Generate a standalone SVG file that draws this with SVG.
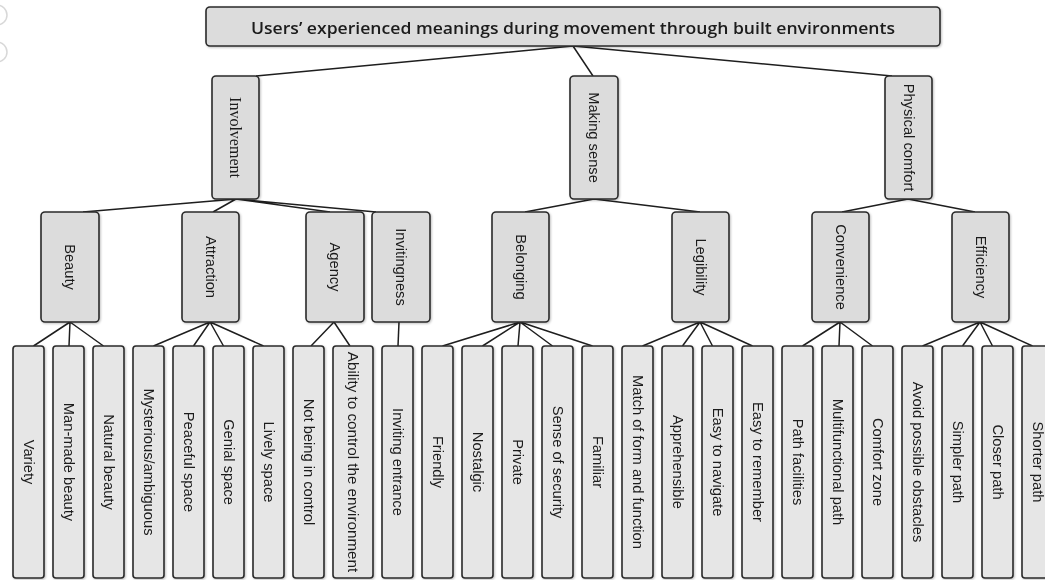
<svg xmlns="http://www.w3.org/2000/svg" width="1045" height="580" viewBox="0 0 1045 580">
<style>
.bx{fill:#dcdcdc;stroke:#2b2b2b;stroke-width:1.6}
.lf{fill:#e6e6e6;stroke:#2b2b2b;stroke-width:1.6}
.t{font-family:"Liberation Sans",Arial,sans-serif;font-size:14.7px;fill:#1a1a1a;text-anchor:middle;dominant-baseline:central}
.ts{font-family:"Liberation Serif","Times New Roman",serif;font-size:16px;fill:#1a1a1a;text-anchor:middle;dominant-baseline:central}
.tt{font-family:"Open Sans","Liberation Sans",sans-serif;font-size:16.5px;font-weight:600;fill:#1a1a1a;text-anchor:middle;dominant-baseline:central}
.cn{stroke:#1e1e1e;stroke-width:1.5;fill:none}
.art{fill:none;stroke:#d8d8d8;stroke-width:1.5}
</style>
<defs>
<filter id="sh" x="-20%" y="-20%" width="140%" height="140%">
<feDropShadow dx="1" dy="1" stdDeviation="1" flood-color="#000" flood-opacity="0.25"/>
</filter>
</defs>
<rect width="1045" height="580" fill="#ffffff"/>
<circle class="art" cx="-3" cy="15" r="10"/>
<circle class="art" cx="-3" cy="52" r="10"/>

<g id="connectors">
<path class="cn" d="M573 46 L256 76 M573 46 L593 76 M573 46 L892 76"/>
<path class="cn" d="M236 199 L83 212 M236 199 L213 212 M236 199 L330 212 M236 199 L376 212"/>
<path class="cn" d="M594 199 L525 212 M594 199 L700 212"/>
<path class="cn" d="M908 199 L842 212 M908 199 L975 212"/>
<path class="cn" d="M70 322 L33.5 346 M70 322 L69 346 M70 322 L103.5 346"/>
<path class="cn" d="M210 322 L153.5 346 M210 322 L193.5 346 M210 322 L223.5 346 M210 322 L263.5 346"/>
<path class="cn" d="M334 322 L311 346 M334 322 L350 346"/>
<path class="cn" d="M399 322 L398 346"/>
<path class="cn" d="M520 322 L442.5 346 M520 322 L482.5 346 M520 322 L518 346 M520 322 L552.5 346 M520 322 L592.5 346"/>
<path class="cn" d="M700 322 L642.5 346 M700 322 L682.5 346 M700 322 L712.5 346 M700 322 L752.5 346"/>
<path class="cn" d="M840 322 L802.5 346 M840 322 L839 346 M840 322 L872.5 346"/>
<path class="cn" d="M980 322 L922.5 346 M980 322 L962.5 346 M980 322 L992.5 346 M980 322 L1032.5 346"/>
</g>

<g id="root" filter="url(#sh)">
<rect class="bx" x="206" y="7" width="734" height="39" rx="4"/>
<text class="tt" x="573" y="27" textLength="644" lengthAdjust="spacingAndGlyphs">Users’ experienced meanings during movement through built environments</text>
</g>

<g id="involvement" filter="url(#sh)"><rect class="bx" x="212" y="76" width="47" height="123" rx="4"/><text class="ts" transform="translate(235.5,137.5) rotate(90)">Involvement</text></g>
<g id="making-sense" filter="url(#sh)"><rect class="bx" x="570" y="76" width="48" height="123" rx="4"/><text class="t" transform="translate(594,137.5) rotate(90)">Making sense</text></g>
<g id="physical-comfort" filter="url(#sh)"><rect class="bx" x="885" y="76" width="47" height="123" rx="4"/><text class="t" transform="translate(908.5,137.5) rotate(90)">Physical comfort</text></g>

<g id="beauty" filter="url(#sh)"><rect class="bx" x="41" y="212" width="58" height="110" rx="4"/><text class="t" transform="translate(70,267) rotate(90)">Beauty</text></g>
<g id="attraction" filter="url(#sh)"><rect class="bx" x="182" y="212" width="57" height="110" rx="4"/><text class="t" transform="translate(210.5,267) rotate(90)">Attraction</text></g>
<g id="agency" filter="url(#sh)"><rect class="bx" x="306" y="212" width="58" height="110" rx="4"/><text class="t" transform="translate(335,267) rotate(90)">Agency</text></g>
<g id="invitingness" filter="url(#sh)"><rect class="bx" x="372" y="212" width="58" height="110" rx="4"/><text class="t" transform="translate(401,267) rotate(90)">Invitingness</text></g>
<g id="belonging" filter="url(#sh)"><rect class="bx" x="492" y="212" width="57" height="110" rx="4"/><text class="t" transform="translate(520.5,267) rotate(90)">Belonging</text></g>
<g id="legibility" filter="url(#sh)"><rect class="bx" x="672" y="212" width="57" height="110" rx="4"/><text class="t" transform="translate(700.5,267) rotate(90)">Legibility</text></g>
<g id="convenience" filter="url(#sh)"><rect class="bx" x="812" y="212" width="57" height="110" rx="4"/><text class="t" transform="translate(840.5,267) rotate(90)">Convenience</text></g>
<g id="efficiency" filter="url(#sh)"><rect class="bx" x="952" y="212" width="57" height="110" rx="4"/><text class="t" transform="translate(980.5,267) rotate(90)">Efficiency</text></g>

<g id="variety" filter="url(#sh)"><rect class="lf" x="13" y="346" width="31" height="232" rx="3"/><text class="t" transform="translate(28.5,462) rotate(90)">Variety</text></g>
<g id="man-made-beauty" filter="url(#sh)"><rect class="lf" x="53" y="346" width="31" height="232" rx="3"/><text class="t" transform="translate(68.5,462) rotate(90)">Man-made beauty</text></g>
<g id="natural-beauty" filter="url(#sh)"><rect class="lf" x="93" y="346" width="31" height="232" rx="3"/><text class="t" transform="translate(108.5,462) rotate(90)">Natural beauty</text></g>
<g id="mysterious" filter="url(#sh)"><rect class="lf" x="133" y="346" width="31" height="232" rx="3"/><text class="t" transform="translate(148.5,462) rotate(90)">Mysterious/ambiguous</text></g>
<g id="peaceful-space" filter="url(#sh)"><rect class="lf" x="173" y="346" width="31" height="232" rx="3"/><text class="t" transform="translate(188.5,462) rotate(90)">Peaceful space</text></g>
<g id="genial-space" filter="url(#sh)"><rect class="lf" x="213" y="346" width="31" height="232" rx="3"/><text class="t" transform="translate(228.5,462) rotate(90)">Genial space</text></g>
<g id="lively-space" filter="url(#sh)"><rect class="lf" x="253" y="346" width="31" height="232" rx="3"/><text class="t" transform="translate(268.5,462) rotate(90)">Lively space</text></g>
<g id="not-being-in-control" filter="url(#sh)"><rect class="lf" x="293" y="346" width="31" height="232" rx="3"/><text class="t" transform="translate(308.5,462) rotate(90)">Not being in control</text></g>
<g id="ability" filter="url(#sh)"><rect class="lf" x="333" y="346" width="40" height="232" rx="3"/><text class="t" style="font-size:15.2px" transform="translate(353,462) rotate(90)">Ability to control the environment</text></g>
<g id="inviting-entrance" filter="url(#sh)"><rect class="lf" x="382" y="346" width="31" height="232" rx="3"/><text class="t" transform="translate(397.5,462) rotate(90)">Inviting entrance</text></g>
<g id="friendly" filter="url(#sh)"><rect class="lf" x="422" y="346" width="31" height="232" rx="3"/><text class="t" transform="translate(437.5,462) rotate(90)">Friendly</text></g>
<g id="nostalgic" filter="url(#sh)"><rect class="lf" x="462" y="346" width="31" height="232" rx="3"/><text class="t" transform="translate(477.5,462) rotate(90)">Nostalgic</text></g>
<g id="private" filter="url(#sh)"><rect class="lf" x="502" y="346" width="31" height="232" rx="3"/><text class="t" transform="translate(517.5,462) rotate(90)">Private</text></g>
<g id="sense-of-security" filter="url(#sh)"><rect class="lf" x="542" y="346" width="31" height="232" rx="3"/><text class="t" transform="translate(557.5,462) rotate(90)">Sense of security</text></g>
<g id="familiar" filter="url(#sh)"><rect class="lf" x="582" y="346" width="31" height="232" rx="3"/><text class="t" transform="translate(597.5,462) rotate(90)">Familiar</text></g>
<g id="match" filter="url(#sh)"><rect class="lf" x="622" y="346" width="31" height="232" rx="3"/><text class="t" transform="translate(637.5,462) rotate(90)">Match of form and function</text></g>
<g id="apprehensible" filter="url(#sh)"><rect class="lf" x="662" y="346" width="31" height="232" rx="3"/><text class="t" transform="translate(677.5,462) rotate(90)">Apprehensible</text></g>
<g id="easy-to-navigate" filter="url(#sh)"><rect class="lf" x="702" y="346" width="31" height="232" rx="3"/><text class="t" transform="translate(717.5,462) rotate(90)">Easy to navigate</text></g>
<g id="easy-to-remember" filter="url(#sh)"><rect class="lf" x="742" y="346" width="31" height="232" rx="3"/><text class="t" transform="translate(757.5,462) rotate(90)">Easy to remember</text></g>
<g id="path-facilities" filter="url(#sh)"><rect class="lf" x="782" y="346" width="31" height="232" rx="3"/><text class="t" transform="translate(797.5,462) rotate(90)">Path facilities</text></g>
<g id="multifunctional-path" filter="url(#sh)"><rect class="lf" x="822" y="346" width="31" height="232" rx="3"/><text class="t" transform="translate(837.5,462) rotate(90)">Multifunctional path</text></g>
<g id="comfort-zone" filter="url(#sh)"><rect class="lf" x="862" y="346" width="31" height="232" rx="3"/><text class="t" transform="translate(877.5,462) rotate(90)">Comfort zone</text></g>
<g id="avoid-obstacles" filter="url(#sh)"><rect class="lf" x="902" y="346" width="31" height="232" rx="3"/><text class="t" transform="translate(917.5,462) rotate(90)">Avoid possible obstacles</text></g>
<g id="simpler-path" filter="url(#sh)"><rect class="lf" x="942" y="346" width="31" height="232" rx="3"/><text class="t" transform="translate(957.5,462) rotate(90)">Simpler path</text></g>
<g id="closer-path" filter="url(#sh)"><rect class="lf" x="982" y="346" width="31" height="232" rx="3"/><text class="t" transform="translate(997.5,462) rotate(90)">Closer path</text></g>
<g id="shorter-path" filter="url(#sh)"><rect class="lf" x="1022" y="346" width="31" height="232" rx="3"/><text class="t" transform="translate(1037.5,462) rotate(90)">Shorter path</text></g>
</svg>
